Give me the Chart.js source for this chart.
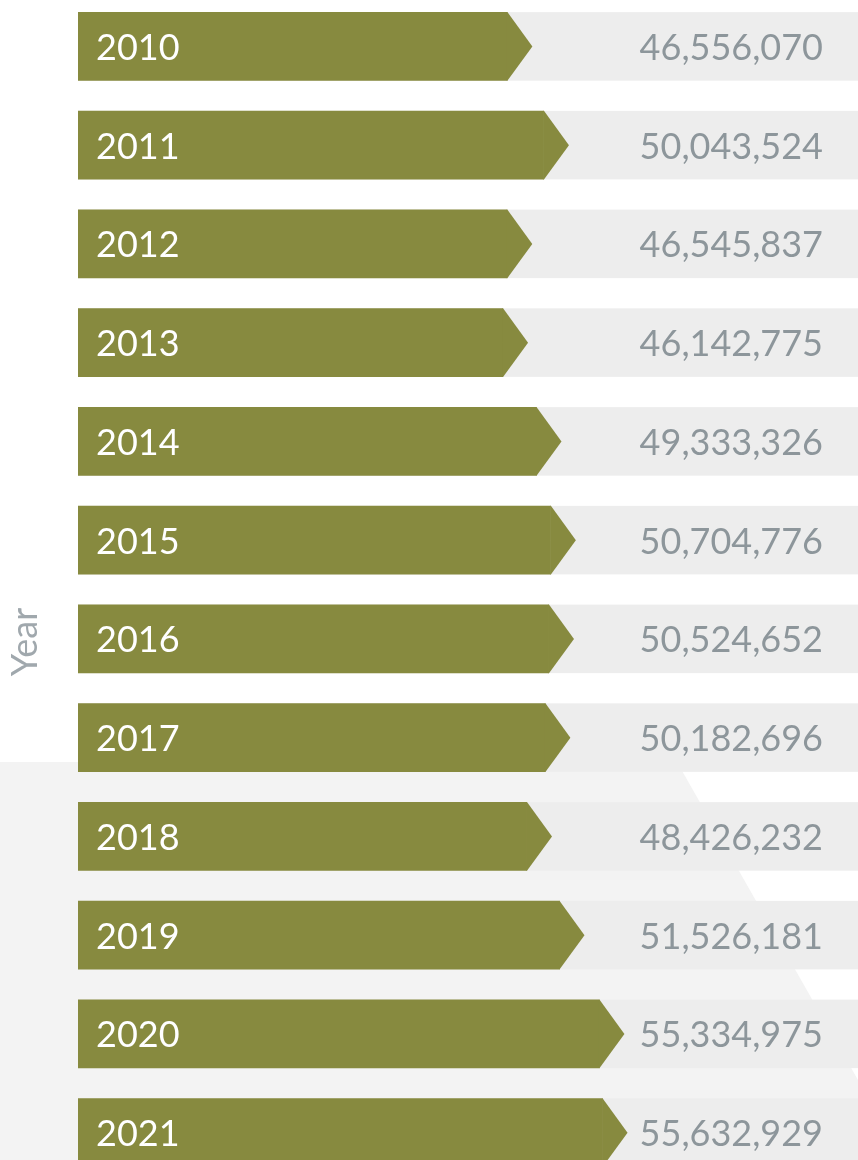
<!DOCTYPE html>
<html>
<head>
<meta charset="utf-8">
<title>Totals by year</title>
<script src="https://cdn.jsdelivr.net/npm/chart.js@4"></script>
<style>
    html, body { margin: 0; padding: 0; background: #ffffff; overflow: hidden; }
    #wrap { position: relative; width: 858px; height: 1160px; overflow: hidden; }
    #year_chart { position: absolute; left: 0; top: -3px; }
</style>
</head>
<body>
<div id="wrap"><canvas id="year_chart" width="858" height="1185"></canvas></div>
<script>
const years = ['2010', '2011', '2012', '2013', '2014', '2015',
    '2016', '2017', '2018', '2019', '2020', '2021'];
const totals = [46556070, 50043524, 46545837, 46142775, 49333326, 50704776,
    50524652, 50182696, 48426232, 51526181, 55334975, 55632929];
const axis_min = 5600000;
const axis_max = 80000000;
const axis_title = 'Year';

const bar_color = '#878a3f';
const track_color = '#ededed';
const value_color = '#8d969b';
const font_family = 'Lato, "Open Sans", sans-serif';
const tip_length = 25;

// light panel behind the lower rows, cut off by a slanted edge on the right
const backdrop_plugin = {
    id: 'backdrop',
    beforeDraw(chart) {
        let ctx = chart.ctx;
        let dy = 3;
        ctx.save();
        ctx.fillStyle = '#ffffff';
        ctx.fillRect(0, 0, chart.width, chart.height);
        ctx.fillStyle = '#f3f3f3';
        ctx.beginPath();
        ctx.moveTo(0, 762 + dy);
        ctx.lineTo(677, 762 + dy);
        ctx.lineTo(858, 1080 + dy);
        ctx.lineTo(858, chart.height);
        ctx.lineTo(0, chart.height);
        ctx.closePath();
        ctx.fill();
        ctx.restore();
    }
};

// grey track behind every bar, full width of the plot
const track_plugin = {
    id: 'tracks',
    beforeDatasetsDraw(chart) {
        let ctx = chart.ctx;
        let area = chart.chartArea;
        let meta = chart.getDatasetMeta(0);
        ctx.save();
        ctx.fillStyle = track_color;
        meta.data.forEach((bar) => {
            let p = bar.getProps(['y', 'height'], true);
            ctx.fillRect(area.left, p.y - p.height / 2, area.right - area.left, p.height);
        });
        ctx.restore();
    }
};

// arrow heads, year names inside the bars and the totals on the right
const arrow_plugin = {
    id: 'arrows',
    afterDatasetsDraw(chart) {
        let ctx = chart.ctx;
        let area = chart.chartArea;
        let meta = chart.getDatasetMeta(0);
        ctx.save();
        meta.data.forEach((bar, i) => {
            let p = bar.getProps(['x', 'y', 'height'], true);
            let top = p.y - p.height / 2;
            let bottom = p.y + p.height / 2;
            ctx.fillStyle = bar_color;
            ctx.beginPath();
            ctx.moveTo(p.x - 0.5, top);
            ctx.lineTo(p.x, top);
            ctx.lineTo(p.x + tip_length, p.y);
            ctx.lineTo(p.x, bottom);
            ctx.lineTo(p.x - 0.5, bottom);
            ctx.closePath();
            ctx.fill();

            ctx.font = '36px ' + font_family;
            ctx.textBaseline = 'alphabetic';
            ctx.fillStyle = '#ffffff';
            ctx.textAlign = 'left';
            ctx.fillText(years[i], area.left + 18, p.y + 13.5);

            ctx.fillStyle = value_color;
            ctx.textAlign = 'right';
            ctx.fillText(totals[i].toLocaleString('en-US'), area.right - 35, p.y + 13.5);
        });
        ctx.restore();
    }
};

const axis_title_plugin = {
    id: 'axis_title',
    afterDraw(chart) {
        let ctx = chart.ctx;
        ctx.save();
        ctx.translate(25, 645);
        ctx.rotate(-Math.PI / 2);
        ctx.font = '36px ' + font_family;
        ctx.fillStyle = '#a0a8ad';
        ctx.textAlign = 'center';
        ctx.textBaseline = 'middle';
        ctx.fillText(axis_title, 0, 0);
        ctx.restore();
    }
};

let year_canvas = document.getElementById('year_chart');

const year_chart_config = {
    type: 'bar',
    data: {
        labels: years,
        datasets: [{
            label: 'Total',
            data: totals,
            backgroundColor: bar_color,
            borderWidth: 0,
            barPercentage: 0.694,
            categoryPercentage: 1.0,
        }]
    },
    options: {
        indexAxis: 'y',
        responsive: false,
        animation: false,
        layout: {
            padding: { left: 78, right: 0, top: 0, bottom: 0 }
        },
        plugins: {
            legend: { display: false },
            tooltip: { enabled: false }
        },
        scales: {
            x: {
                display: false,
                min: axis_min,
                max: axis_max
            },
            y: {
                display: false
            }
        }
    },
    plugins: [backdrop_plugin, track_plugin, arrow_plugin, axis_title_plugin]
};

document.fonts.load('36px Lato').then(() => {
    new Chart(year_canvas, year_chart_config);
});
</script>
</body>
</html>
